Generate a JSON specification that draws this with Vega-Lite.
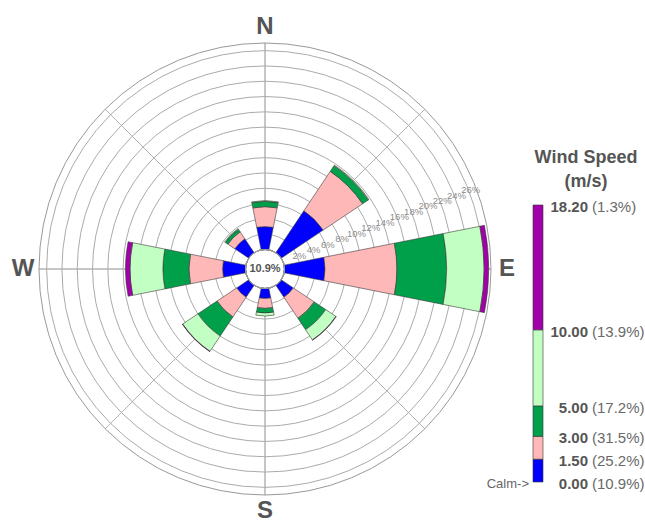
{
  "$schema": "https://vega.github.io/schema/vega-lite/v6.json",
  "background": "white",
  "width": 530,
  "height": 538,
  "padding": {"left": 0, "top": 0, "right": 115, "bottom": 0},
  "autosize": {"type": "none"},
  "config": {"view": {"stroke": null}, "font": "Liberation Sans"},
  "datasets": {
    "petals": [
      {"dir": "N", "deg": 0, "ord": 1, "cls": "0.5-1.5", "pct": 3.0},
      {"dir": "N", "deg": 0, "ord": 2, "cls": "1.5-3", "pct": 2.6},
      {"dir": "N", "deg": 0, "ord": 3, "cls": "3-5", "pct": 0.7},
      {"dir": "N", "deg": 0, "ord": 4, "cls": "5-10", "pct": 0.1},
      {"dir": "NE", "deg": 45, "ord": 1, "cls": "0.5-1.5", "pct": 6.6},
      {"dir": "NE", "deg": 45, "ord": 2, "cls": "1.5-3", "pct": 6.2},
      {"dir": "NE", "deg": 45, "ord": 3, "cls": "3-5", "pct": 0.9},
      {"dir": "NE", "deg": 45, "ord": 4, "cls": "5-10", "pct": 0.1},
      {"dir": "E", "deg": 90, "ord": 1, "cls": "0.5-1.5", "pct": 5.3},
      {"dir": "E", "deg": 90, "ord": 2, "cls": "1.5-3", "pct": 9.4},
      {"dir": "E", "deg": 90, "ord": 3, "cls": "3-5", "pct": 6.5},
      {"dir": "E", "deg": 90, "ord": 4, "cls": "5-10", "pct": 4.9},
      {"dir": "E", "deg": 90, "ord": 5, "cls": ">=10", "pct": 0.6},
      {"dir": "SE", "deg": 135, "ord": 1, "cls": "0.5-1.5", "pct": 1.9},
      {"dir": "SE", "deg": 135, "ord": 2, "cls": "1.5-3", "pct": 3.3},
      {"dir": "SE", "deg": 135, "ord": 3, "cls": "3-5", "pct": 1.8},
      {"dir": "SE", "deg": 135, "ord": 4, "cls": "5-10", "pct": 1.6},
      {"dir": "SE", "deg": 135, "ord": 5, "cls": ">=10", "pct": 0.05},
      {"dir": "S", "deg": 180, "ord": 1, "cls": "0.5-1.5", "pct": 1.3},
      {"dir": "S", "deg": 180, "ord": 2, "cls": "1.5-3", "pct": 1.3},
      {"dir": "S", "deg": 180, "ord": 3, "cls": "3-5", "pct": 0.6},
      {"dir": "S", "deg": 180, "ord": 4, "cls": "5-10", "pct": 0.4},
      {"dir": "SW", "deg": 225, "ord": 1, "cls": "0.5-1.5", "pct": 1.9},
      {"dir": "SW", "deg": 225, "ord": 2, "cls": "1.5-3", "pct": 3.1},
      {"dir": "SW", "deg": 225, "ord": 3, "cls": "3-5", "pct": 3.0},
      {"dir": "SW", "deg": 225, "ord": 4, "cls": "5-10", "pct": 2.4},
      {"dir": "SW", "deg": 225, "ord": 5, "cls": ">=10", "pct": 0.05},
      {"dir": "W", "deg": 270, "ord": 1, "cls": "0.5-1.5", "pct": 3.0},
      {"dir": "W", "deg": 270, "ord": 2, "cls": "1.5-3", "pct": 4.4},
      {"dir": "W", "deg": 270, "ord": 3, "cls": "3-5", "pct": 3.4},
      {"dir": "W", "deg": 270, "ord": 4, "cls": "5-10", "pct": 4.3},
      {"dir": "W", "deg": 270, "ord": 5, "cls": ">=10", "pct": 0.6},
      {"dir": "NW", "deg": 315, "ord": 1, "cls": "0.5-1.5", "pct": 2.2},
      {"dir": "NW", "deg": 315, "ord": 2, "cls": "1.5-3", "pct": 1.1},
      {"dir": "NW", "deg": 315, "ord": 3, "cls": "3-5", "pct": 0.4},
      {"dir": "NW", "deg": 315, "ord": 4, "cls": "5-10", "pct": 0.1}
    ],
    "spokes": [
      {"deg": 0}, {"deg": 45}, {"deg": 90}, {"deg": 135},
      {"deg": 180}, {"deg": 225}, {"deg": 270}, {"deg": 315}
    ],
    "rings": [
      {"p": 2, "lab": "2%"}, {"p": 4, "lab": "4%"}, {"p": 6, "lab": "6%"},
      {"p": 8, "lab": "8%"}, {"p": 10, "lab": "10%"}, {"p": 12, "lab": "12%"},
      {"p": 14, "lab": "14%"}, {"p": 16, "lab": "16%"}, {"p": 18, "lab": "18%"},
      {"p": 20, "lab": "20%"}, {"p": 22, "lab": "22%"}, {"p": 24, "lab": "24%"},
      {"p": 26, "lab": "26%"}
    ],
    "frame": [{"p": 27}],
    "dirs": [
      {"lab": "N", "deg": 0}, {"lab": "E", "deg": 90},
      {"lab": "S", "deg": 180}, {"lab": "W", "deg": 270}
    ],
    "calm": [{"lab": "10.9%"}],
    "legbars": [
      {"lo": 0, "hi": 1.5, "cls": "0.5-1.5"},
      {"lo": 1.5, "hi": 3, "cls": "1.5-3"},
      {"lo": 3, "hi": 5, "cls": "3-5"},
      {"lo": 5, "hi": 10, "cls": "5-10"},
      {"lo": 10, "hi": 18.2, "cls": ">=10"}
    ],
    "leglabs": [
      {"v": 18.2, "num": "18.20", "pct": "(1.3%)"},
      {"v": 10, "num": "10.00", "pct": "(13.9%)"},
      {"v": 5, "num": "5.00", "pct": "(17.2%)"},
      {"v": 3, "num": "3.00", "pct": "(31.5%)"},
      {"v": 1.5, "num": "1.50", "pct": "(25.2%)"},
      {"v": 0, "num": "0.00", "pct": "(10.9%)"}
    ],
    "legtitle": [
      {"t": "Wind Speed", "v": 21.29},
      {"t": "(m/s)", "v": 19.71}
    ],
    "calmlab": [{"t": "Calm->", "v": 0}]
  },
  "layer": [
    {
      "data": {"name": "spokes"},
      "mark": {"type": "arc", "filled": false, "stroke": "#b4b4b4", "strokeWidth": 1},
      "encoding": {
        "theta": {"field": "deg", "type": "quantitative", "stack": null, "scale": {"type": "linear", "domain": [0, 360], "range": [0, 6.283185307179586], "zero": false, "nice": false}},
        "theta2": {"field": "deg"},
        "radius": {"datum": 27, "type": "quantitative", "stack": null, "scale": {"type": "linear", "domain": [0, 27], "range": [19.5, 226], "zero": false, "nice": false}},
        "radius2": {"datum": 0}
      }
    },
    {
      "data": {"name": "rings"},
      "mark": {"type": "arc", "filled": false, "stroke": "#ababab", "strokeWidth": 1},
      "encoding": {
        "theta": {"datum": 0, "type": "quantitative", "scale": {"type": "linear", "domain": [0, 360], "range": [0, 6.283185307179586], "zero": false, "nice": false}},
        "theta2": {"datum": 360},
        "radius": {"field": "p", "type": "quantitative", "stack": null, "scale": {"type": "linear", "domain": [0, 27], "range": [19.5, 226], "zero": false, "nice": false}}
      }
    },
    {
      "data": {"name": "frame"},
      "mark": {"type": "arc", "filled": false, "stroke": "#999999", "strokeWidth": 1},
      "encoding": {
        "theta": {"datum": 0, "type": "quantitative", "scale": {"type": "linear", "domain": [0, 360], "range": [0, 6.283185307179586], "zero": false, "nice": false}},
        "theta2": {"datum": 360},
        "radius": {"field": "p", "type": "quantitative", "stack": null, "scale": {"type": "linear", "domain": [0, 27], "range": [19.5, 226], "zero": false, "nice": false}}
      }
    },
    {
      "data": {"name": "petals"},
      "transform": [
        {"stack": "pct", "groupby": ["dir"], "sort": [{"field": "ord", "order": "ascending"}], "as": ["r0", "r1"]},
        {"calculate": "datum.deg - 11.25", "as": "t0"},
        {"calculate": "datum.deg + 11.25", "as": "t1"}
      ],
      "mark": {"type": "arc", "stroke": "#3a3a3a", "strokeWidth": 0.6},
      "encoding": {
        "theta": {"field": "t0", "type": "quantitative", "stack": null, "scale": {"type": "linear", "domain": [0, 360], "range": [0, 6.283185307179586], "zero": false, "nice": false}},
        "theta2": {"field": "t1"},
        "radius": {"field": "r1", "type": "quantitative", "stack": null, "scale": {"type": "linear", "domain": [0, 27], "range": [19.5, 226], "zero": false, "nice": false}},
        "radius2": {"field": "r0"},
        "color": {"field": "cls", "type": "nominal", "legend": null,
          "scale": {"domain": ["0.5-1.5", "1.5-3", "3-5", "5-10", ">=10"], "range": ["#0000FF", "#FFB8B8", "#00A04A", "#C2FFC2", "#A200A8"]}}
      }
    },
    {
      "data": {"name": "calm"},
      "mark": {"type": "arc", "fill": "#DFF9F9", "stroke": "#9a9a9a", "strokeWidth": 1},
      "encoding": {
        "theta": {"datum": 0, "type": "quantitative", "scale": {"type": "linear", "domain": [0, 360], "range": [0, 6.283185307179586], "zero": false, "nice": false}},
        "theta2": {"datum": 360},
        "radius": {"datum": 0, "type": "quantitative", "stack": null, "scale": {"type": "linear", "domain": [0, 27], "range": [19.5, 226], "zero": false, "nice": false}}
      }
    },
    {
      "data": {"name": "calm"},
      "mark": {"type": "text", "fontSize": 11, "fontWeight": "bold", "fill": "#555555", "align": "center", "baseline": "middle"},
      "encoding": {"text": {"field": "lab"}}
    },
    {
      "data": {"name": "rings"},
      "mark": {"type": "text", "fontSize": 9.5, "fill": "#8c8c8c", "align": "center", "baseline": "middle", "radiusOffset": 2},
      "encoding": {
        "theta": {"datum": 69, "type": "quantitative", "scale": {"type": "linear", "domain": [0, 360], "range": [0, 6.283185307179586], "zero": false, "nice": false}},
        "radius": {"field": "p", "type": "quantitative", "stack": null, "scale": {"type": "linear", "domain": [0, 27], "range": [19.5, 226], "zero": false, "nice": false}},
        "text": {"field": "lab"}
      }
    },
    {
      "data": {"name": "dirs"},
      "mark": {"type": "text", "fontSize": 24, "fontWeight": "bold", "fill": "#555555", "align": "center", "baseline": "middle", "radiusOffset": 16},
      "encoding": {
        "theta": {"field": "deg", "type": "quantitative", "stack": null, "scale": {"type": "linear", "domain": [0, 360], "range": [0, 6.283185307179586], "zero": false, "nice": false}},
        "radius": {"datum": 27, "type": "quantitative", "stack": null, "scale": {"type": "linear", "domain": [0, 27], "range": [19.5, 226], "zero": false, "nice": false}},
        "text": {"field": "lab"}
      }
    },
    {
      "data": {"name": "legbars"},
      "mark": {"type": "rect", "stroke": "#333333", "strokeWidth": 0.6},
      "encoding": {
        "x": {"datum": 53.3, "type": "quantitative", "axis": null, "scale": {"domain": [0, 53], "zero": false, "nice": false}},
        "x2": {"datum": 54.3},
        "y": {"field": "lo", "type": "quantitative", "axis": null, "scale": {"domain": [-3.68, 31.67], "zero": false, "nice": false}},
        "y2": {"field": "hi"},
        "color": {"field": "cls", "type": "nominal", "legend": null,
          "scale": {"domain": ["0.5-1.5", "1.5-3", "3-5", "5-10", ">=10"], "range": ["#0000FF", "#FFB8B8", "#00A04A", "#C2FFC2", "#A200A8"]}}
      }
    },
    {
      "data": {"name": "leglabs"},
      "mark": {"type": "text", "fontSize": 15, "fontWeight": "bold", "fill": "#555555", "align": "right", "baseline": "middle", "dy": 2},
      "encoding": {
        "x": {"datum": 58.8, "type": "quantitative", "axis": null, "scale": {"domain": [0, 53], "zero": false, "nice": false}},
        "y": {"field": "v", "type": "quantitative", "axis": null, "scale": {"domain": [-3.68, 31.67], "zero": false, "nice": false}},
        "text": {"field": "num"}
      }
    },
    {
      "data": {"name": "leglabs"},
      "mark": {"type": "text", "fontSize": 15, "fill": "#6a6a6a", "align": "left", "baseline": "middle", "dy": 2},
      "encoding": {
        "x": {"datum": 59.2, "type": "quantitative", "axis": null, "scale": {"domain": [0, 53], "zero": false, "nice": false}},
        "y": {"field": "v", "type": "quantitative", "axis": null, "scale": {"domain": [-3.68, 31.67], "zero": false, "nice": false}},
        "text": {"field": "pct"}
      }
    },
    {
      "data": {"name": "legtitle"},
      "mark": {"type": "text", "fontSize": 18, "fontWeight": "bold", "fill": "#555555", "align": "center", "baseline": "middle"},
      "encoding": {
        "x": {"datum": 58.6, "type": "quantitative", "axis": null, "scale": {"domain": [0, 53], "zero": false, "nice": false}},
        "y": {"field": "v", "type": "quantitative", "axis": null, "scale": {"domain": [-3.68, 31.67], "zero": false, "nice": false}},
        "text": {"field": "t"}
      }
    },
    {
      "data": {"name": "calmlab"},
      "mark": {"type": "text", "fontSize": 13, "fill": "#666666", "align": "right", "baseline": "middle", "dy": 2},
      "encoding": {
        "x": {"datum": 52.9, "type": "quantitative", "axis": null, "scale": {"domain": [0, 53], "zero": false, "nice": false}},
        "y": {"field": "v", "type": "quantitative", "axis": null, "scale": {"domain": [-3.68, 31.67], "zero": false, "nice": false}},
        "text": {"field": "t"}
      }
    }
  ]
}
